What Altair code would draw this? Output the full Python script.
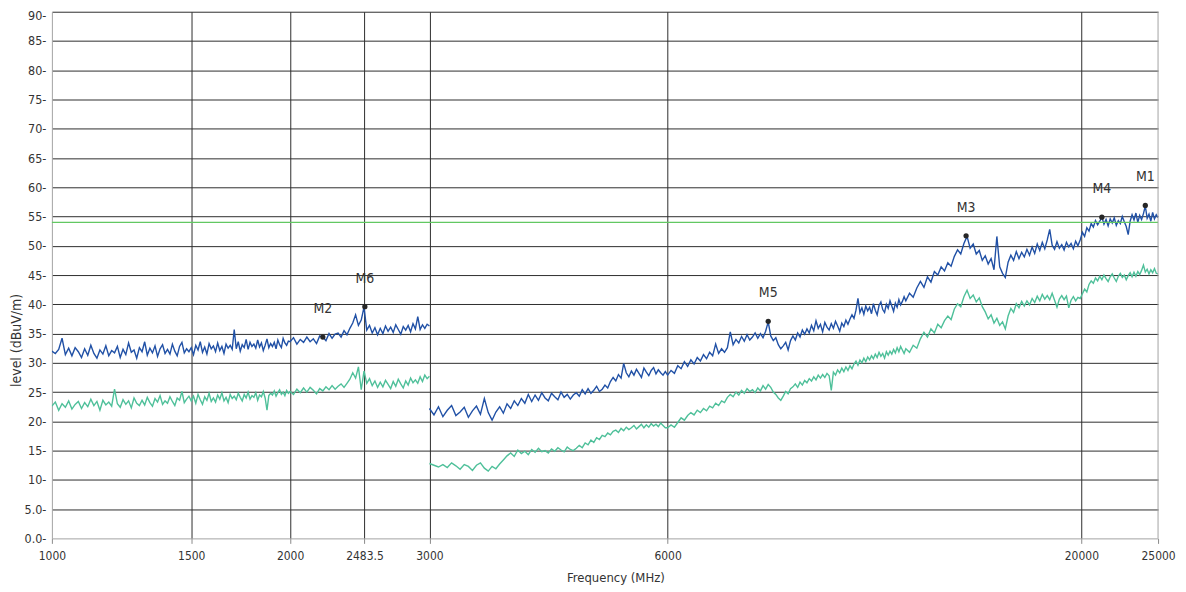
import altair as alt
import pandas as pd

# ---------------- data ----------------
# sweep points (MHz)
FREQ_LOW = list(range(1000, 2000, 10)) + list(range(2000, 3001, 20))
FREQ_HIGH = list(range(3000, 6000, 40)) + list(range(6000, 12000, 60)) + list(range(12000, 25001, 130))

# peak trace (blue), 1000-3000 MHz
BLUE_LOW = [
    32.0, 31.6, 32.3, 34.2, 31.4, 32.5, 31.2, 32.6, 31.9, 30.9,
    32.4, 31.3, 33.0, 31.6, 30.8, 32.2, 31.5, 32.9, 31.2, 32.1,
    31.7, 32.8, 30.9, 32.3, 31.4, 33.4, 31.8, 32.2, 30.8, 32.6,
    31.9, 33.6, 31.3, 32.5, 31.7, 32.9, 31.1, 32.4, 33.1, 31.6,
    32.3, 31.5, 33.2, 32.0, 31.2, 32.8, 33.5, 31.7, 32.4, 31.9,
    32.6, 31.4, 33.0, 32.2, 33.6, 31.8, 32.7, 31.5, 33.3, 32.4,
    32.9, 31.9, 33.4, 32.1, 32.8, 31.6, 33.2, 32.5, 33.0, 32.3,
    35.7, 32.4, 33.6, 32.0, 33.1, 32.6, 34.0, 32.3, 33.5, 32.8,
    33.2, 32.5, 33.9, 32.7, 33.4, 32.1, 33.0, 34.1, 32.6, 33.3,
    32.8, 33.5, 32.4, 33.9, 33.1, 32.6, 34.2, 33.4, 33.0, 33.7,
    33.6, 34.3, 33.2, 34.0, 33.5,
    34.4, 33.6, 34.1, 33.3, 34.6,
    34.4, 33.8, 35.0, 34.2, 34.9,
    35.1, 34.4, 35.5, 34.8, 35.9,
    36.8, 38.2, 36.4, 37.3, 39.5,
    35.6, 36.4, 35.1, 36.0, 34.8,
    35.9, 35.0, 36.3, 35.4, 36.1,
    35.2, 36.5, 35.7, 34.9, 36.2,
    35.6, 36.4, 35.3, 36.7, 35.8,
    37.9, 35.7, 36.5, 35.9, 36.6,
    36.3,
]

# average trace (green), 1000-3000 MHz
GREEN_LOW = [
    22.6, 23.3, 21.9, 23.0, 22.4, 23.5, 22.1, 22.9, 23.4, 22.2,
    23.2, 22.5, 23.8, 22.7, 23.4, 21.9, 23.6, 22.8, 23.3, 22.6,
    25.5, 23.0, 22.4, 23.7, 22.9, 23.5, 22.3, 24.0, 23.1, 22.7,
    23.6, 22.8, 24.1, 23.2, 22.6, 23.9, 23.3, 24.4, 22.9, 23.5,
    23.1, 24.2, 23.4, 22.7, 24.0, 23.6, 25.1, 23.2, 23.8, 24.3,
    23.5, 24.3, 23.1, 24.6, 23.7, 22.9, 24.2, 23.6, 24.8, 23.4,
    24.0, 23.3, 24.5, 23.8, 24.9, 23.5, 24.1, 23.2, 24.6, 23.9,
    24.3, 23.7, 24.8, 24.1, 23.5, 24.6, 24.0, 25.0, 23.8, 24.4,
    24.1, 24.9, 23.6, 24.5, 24.2, 25.1, 24.0, 21.9, 24.4, 24.8,
    24.5, 25.2, 24.3, 24.9, 25.4, 24.6, 25.0, 24.4, 25.3, 24.8,
    25.1, 24.6, 25.5, 24.9, 25.7,
    25.0, 25.8, 25.3, 24.7, 25.6,
    25.2, 25.9, 25.4, 26.1, 25.5,
    26.0, 26.4, 25.8, 26.5, 27.2,
    28.3, 27.4, 29.3, 25.4, 28.6,
    26.5, 27.3, 26.1, 26.9, 25.8,
    26.7, 25.9, 27.0, 26.3, 25.6,
    26.8, 26.0, 27.2, 26.4, 25.7,
    26.9, 26.2, 27.4, 26.6, 27.1,
    26.5, 27.6, 26.8, 27.9, 27.3,
    27.7,
]

# peak trace (blue), 3000-25000 MHz
BLUE_HIGH = [
    # 3000-5960 step 40
    22.2, 21.1, 22.5, 20.8, 21.9, 22.7, 21.0, 21.6, 22.4, 20.7,
    21.8, 22.6, 21.2, 23.9, 21.5, 20.2, 21.6, 22.5, 21.4, 23.0,
    22.2, 23.5, 22.7, 23.9, 23.1, 24.6, 23.4, 24.5, 23.6, 24.9,
    24.0, 23.5, 24.8, 24.2, 23.7, 25.0, 24.1, 24.6, 23.8, 24.5,
    24.9, 24.3, 25.4, 24.7, 25.6, 24.8, 25.3, 26.0, 25.1, 25.5,
    26.2, 25.7, 26.8, 27.5, 26.9, 28.0, 27.4, 29.9, 28.3, 27.6,
    28.6, 27.9, 28.9, 28.2, 27.5, 29.1, 28.4, 27.8, 28.7, 29.2,
    28.1, 28.8, 28.3, 27.9, 28.5,
    # 6000-11940 step 60
    27.9, 28.7, 28.2, 29.5, 29.0, 30.2, 29.4, 30.5, 29.8, 30.9,
    30.3, 31.4, 30.7, 31.8, 31.2, 33.2, 31.6, 32.4, 31.8, 32.6,
    35.3, 33.1, 34.0, 33.4, 34.5, 33.7, 34.8, 33.9, 34.4, 35.1,
    34.2, 35.0, 34.3, 35.4, 37.0, 34.6, 33.8, 34.3, 33.1, 32.4,
    32.9, 33.5, 32.2, 33.8, 34.6, 33.9, 35.1, 34.4, 35.6, 34.9,
    35.8, 35.1, 36.4, 35.5, 37.2, 35.9, 36.6, 35.3, 36.9, 36.1,
    35.6, 36.7, 35.9, 37.1, 36.3, 35.4, 36.8, 36.2, 37.3, 36.6,
    37.5, 38.2, 37.6, 39.0, 41.0, 38.6, 39.4, 38.3, 39.7, 38.9,
    39.5, 38.4, 40.1, 39.0, 38.2, 39.8, 40.4, 39.1, 38.6, 40.0,
    39.3, 40.6, 39.7, 38.8, 40.2, 39.5, 40.8, 39.9, 40.5, 41.3,
    # 12000-25000 step 130
    40.6, 41.9, 41.2, 42.8, 43.9, 42.9, 44.7, 43.8, 45.6, 45.0,
    46.4, 45.7, 47.1, 46.5, 48.2, 49.3, 48.6, 50.4, 51.6, 49.6,
    50.3, 48.6, 49.2, 47.5, 48.3, 46.9, 47.8, 45.9, 51.6, 46.4,
    45.3, 44.6, 47.2, 48.4, 47.5, 49.0, 47.8, 48.9, 48.1, 49.4,
    48.4, 49.8, 48.7, 50.3, 49.2, 50.6, 49.5, 51.0, 52.8, 50.1,
    49.4, 50.7, 49.6, 50.2, 49.3, 50.6, 49.8, 50.4, 49.5, 50.8,
    50.0, 51.0, 52.3, 51.6, 53.1, 52.5, 53.8, 53.2, 54.3, 53.6,
    54.2, 54.9, 53.7, 54.5, 53.4, 54.6, 53.9, 54.8, 53.5, 54.3,
    53.8, 55.0, 54.1, 53.3, 51.9, 54.2, 55.3, 54.4, 55.6, 54.0,
    55.2, 54.5, 55.5, 56.8, 54.7, 55.4, 54.2, 55.7, 54.6, 55.3,
    54.8,
]

# average trace (green), 3000-25000 MHz
GREEN_HIGH = [
    # 3000-5960 step 40
    12.8, 12.5, 12.2, 12.6, 12.1, 12.9, 12.4, 11.8, 12.6, 12.3,
    11.6, 12.5, 12.9, 12.0, 11.5, 12.3, 11.9, 12.7, 13.4, 14.1,
    14.6, 14.0, 15.1, 14.5, 14.9, 14.3, 15.2, 14.7, 15.4, 14.8,
    15.0, 14.6, 15.3, 14.9, 15.5, 15.1, 14.8, 15.6, 15.2, 15.0,
    15.4, 15.9, 15.5, 16.3, 16.0, 16.8, 16.4, 17.2, 16.9, 17.6,
    17.4, 18.0, 17.7, 18.3, 18.5, 18.1, 18.8, 18.4, 19.0, 18.6,
    18.9, 19.3, 18.7, 19.1, 19.5, 18.9, 19.4, 19.0, 19.6, 19.2,
    19.5, 19.1, 19.7, 19.3, 18.9,
    # 6000-11940 step 60
    18.9, 19.4, 19.0, 19.8, 20.6, 20.2, 21.0, 21.5, 21.1, 21.9,
    21.5, 22.2, 21.8, 22.6, 22.3, 23.1, 22.7, 23.5, 23.2, 24.1,
    24.6, 24.2, 25.0, 24.5, 25.3, 24.8, 25.6, 25.1, 25.4, 24.9,
    25.7, 25.2, 26.1, 25.5, 26.3, 25.8, 25.0, 24.6, 24.0, 23.6,
    24.3, 25.1, 24.7, 25.6, 25.9, 26.4, 25.8, 26.7, 26.2, 27.0,
    26.6, 27.3, 26.9, 27.6, 27.1, 27.9, 27.4, 28.0, 27.5, 28.2,
    27.8, 25.3, 28.4, 27.9, 28.8, 28.3, 29.1, 28.5, 29.3, 28.7,
    29.5, 29.0, 29.8, 30.3, 29.6, 30.5, 30.0, 30.8, 30.2, 31.0,
    30.5, 31.2, 30.7, 31.5, 30.9, 31.8, 31.1, 31.6, 30.8, 31.9,
    31.3, 32.0, 31.5, 32.3, 31.7, 32.6, 31.9, 32.8, 32.2, 31.6,
    # 12000-25000 step 130
    32.4, 31.8, 33.0, 32.5, 34.1, 35.2, 34.4, 35.8, 35.1, 36.6,
    36.0, 37.2, 38.0, 37.4, 39.2, 40.1, 39.6, 41.3, 42.4, 41.0,
    41.6, 40.4, 41.1, 39.6, 38.7, 37.5, 38.2, 36.8, 37.6, 36.4,
    37.0, 35.8, 38.0, 39.3, 38.6, 40.1, 39.4, 40.5, 39.7, 40.6,
    39.9, 41.0, 40.3, 41.4, 40.6, 41.7, 40.9, 41.5, 40.8, 41.9,
    40.7, 39.5, 40.9, 41.5, 40.8, 41.4, 39.4, 40.7, 41.3, 40.6,
    41.2, 41.0, 41.8, 42.6, 42.1, 43.4, 44.0, 43.6, 44.5, 44.0,
    44.8, 44.2, 45.0, 44.4, 43.9, 44.7, 45.2, 44.5, 43.9, 44.8,
    45.3, 44.6, 45.0, 44.2, 44.9, 45.4, 44.7, 45.5, 44.8, 45.6,
    45.1, 45.8, 46.7, 45.5, 46.0, 45.2, 45.9, 45.4, 46.1, 45.3,
    45.2,
]

LIMIT_LEVEL = [54.0]

MARKER_NAMES = ["M1", "M2", "M3", "M4", "M5", "M6"]
MARKER_FREQ = [24090, 2200, 14300, 21230, 8040, 2486]
MARKER_LEVEL = [56.9, 34.4, 51.7, 54.9, 37.1, 39.6]

X_TICKS = [1000, 1500, 2000, 2483.5, 3000, 6000, 20000, 25000]
Y_TICKS = [0.0, 5.0, 10.0, 15.0, 20.0, 25.0, 30.0, 35.0, 40.0, 45.0,
           50.0, 55.0, 60.0, 65.0, 70.0, 75.0, 80.0, 85.0, 90.0]
X_EDGE = [25000]

# ---------------- tables ----------------
rows = []
for seg, freqs, blue, green in [
    ("low", FREQ_LOW, BLUE_LOW, GREEN_LOW),
    ("high", FREQ_HIGH, BLUE_HIGH, GREEN_HIGH),
]:
    for f, v in zip(freqs, green):
        rows.append({"freq": f, "level": v, "trace": "avg", "seg": seg})
    for f, v in zip(freqs, blue):
        rows.append({"freq": f, "level": v, "trace": "peak", "seg": seg})
traces = pd.DataFrame(rows)
markers = pd.DataFrame({"name": MARKER_NAMES, "freq": MARKER_FREQ, "level": MARKER_LEVEL})
limit = pd.DataFrame({"level": LIMIT_LEVEL})
edge = pd.DataFrame({"freq": X_EDGE})

FONT = "Liberation Sans Narrow, DejaVu Sans Condensed, Arial, sans-serif"
GRID = "#2e2e2e"
FRAME = "#a3a3a3"

x_scale = alt.Scale(type="log", domain=[1000, 25000], nice=False)
y_scale = alt.Scale(domain=[0, 90], nice=False, zero=False)

x_axis = alt.Axis(
    values=X_TICKS,
    format=".6~g",
    title="Frequency (MHz)",
    grid=True,
    gridColor={"condition": {"test": "datum.value == 1000 || datum.value == 25000",
                             "value": "transparent"}, "value": GRID},
    tickSize=5,
    labelPadding=7,
    labelFlush=False,
    labelOverlap=False,
    titleX=565,
    titleY=33,
    titleBaseline="top",
)
y_axis = alt.Axis(
    values=Y_TICKS,
    labelExpr="(datum.value < 10 ? format(datum.value, '.1f') : format(datum.value, 'd')) + '-'",
    title="level (dBuV/m)",
    grid=True,
    gridColor={"condition": {"test": "datum.value == 0", "value": "transparent"},
               "value": GRID},
    ticks=False,
    labelPadding=6,
    labelOverlap=False,
    labelFontSize=12.5,
    labelOffset={"condition": {"test": "datum.value == 90", "value": 4}, "value": 0},
    titleFontSize=14,
    titleX=-28,
    titleY=329,
)


def xe():
    return alt.X("freq:Q", scale=x_scale, axis=x_axis)


def ye():
    return alt.Y("level:Q", scale=y_scale, axis=y_axis)


lines = alt.Chart(traces).mark_line(strokeWidth=1.4, clip=True).encode(
    x=xe(),
    y=ye(),
    color=alt.Color("trace:N", scale=alt.Scale(domain=["peak", "avg"],
                                               range=["#2151a6", "#4fc09a"]), legend=None),
    detail="seg:N",
)

limit_rule = alt.Chart(limit).mark_rule(color="#62c862", strokeWidth=1.3).encode(y=ye())

edge_rule = alt.Chart(edge).mark_rule(color=FRAME, strokeWidth=1).encode(x=xe())

dots = alt.Chart(markers).mark_point(filled=True, size=28, color="#262626", opacity=1).encode(
    x=xe(), y=ye()
)
labels = alt.Chart(markers).mark_text(dy=-28, fontSize=14, color="#333333", font=FONT).encode(
    x=xe(), y=ye(), text="name:N"
)

chart = (
    alt.layer(lines, limit_rule, edge_rule, dots, labels)
    .properties(
        width=1109,
        height=528,
        autosize=alt.AutoSizeParams(type="none"),
        padding={"left": 44, "top": 3, "right": 20, "bottom": 50},
        background="white",
    )
    .configure_view(stroke=None)
    .configure_axis(
        labelFont=FONT,
        titleFont=FONT,
        labelFontSize=12,
        titleFontSize=13,
        labelColor="#333333",
        titleColor="#333333",
        titleFontWeight="normal",
        domainColor=FRAME,
        domainWidth=1,
        tickColor="#8a8a8a",
        gridOpacity=1,
        gridWidth=1,
    )
)

chart.save("out.html", embed_options={"renderer": "svg", "actions": False})
